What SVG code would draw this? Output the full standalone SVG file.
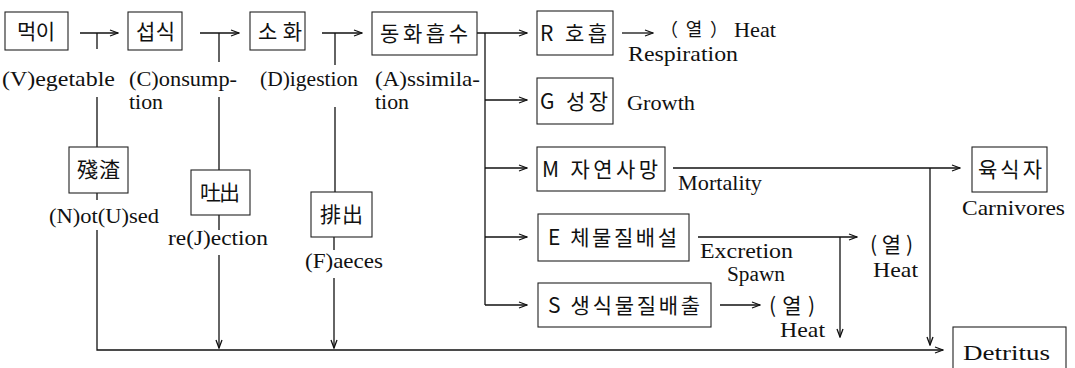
<svg xmlns="http://www.w3.org/2000/svg" width="1075" height="368" viewBox="0 0 1075 368">
<defs>
<style>
.box{fill:#fff;stroke:#222;stroke-width:1.1}
.k{font-family:"Noto Sans CJK KR","Noto Sans CJK SC",sans-serif;font-size:21px;fill:#111}
.t{font-family:"Liberation Serif",serif;font-size:22px;fill:#111}
.c{fill:none;stroke:#111;stroke-width:1.3}
</style>
<marker id="ah" markerWidth="10" markerHeight="8" refX="9" refY="4" orient="auto" markerUnits="userSpaceOnUse"><path d="M1,1 L9,4 L1,7" fill="none" stroke="#111" stroke-width="1.3"/></marker>
</defs>
<rect width="1075" height="368" fill="#fff"/>

<g id="connectors">
<path class="c" d="M80,33 H118" marker-end="url(#ah)"/>
<path class="c" d="M97,33 V49 M97,97 V147"/>
<path class="c" d="M200,33 H239" marker-end="url(#ah)"/>
<path class="c" d="M219,33 V62 M219,97 V170"/>
<path class="c" d="M322,33 H362" marker-end="url(#ah)"/>
<path class="c" d="M335,33 V65 M335,107 V192"/>
<path class="c" d="M97,193 V200 M219,215 V230 M334,237 V250"/>
<path class="c" d="M97,230 V350 H943" marker-end="url(#ah)"/>
<path class="c" d="M219,255 V348" marker-end="url(#ah)"/>
<path class="c" d="M334,278 V348" marker-end="url(#ah)"/>
<path class="c" d="M477,33 H527" marker-end="url(#ah)"/>
<path class="c" d="M485,33 V305"/>
<path class="c" d="M485,100 H527" marker-end="url(#ah)"/>
<path class="c" d="M485,168 H527" marker-end="url(#ah)"/>
<path class="c" d="M485,237 H527" marker-end="url(#ah)"/>
<path class="c" d="M485,305 H527" marker-end="url(#ah)"/>
<path class="c" d="M622,33 H653" marker-end="url(#ah)"/>
<path class="c" d="M673,168 H960" marker-end="url(#ah)"/>
<path class="c" d="M930,168 V345" marker-end="url(#ah)"/>
<path class="c" d="M698,237 H857" marker-end="url(#ah)"/>
<path class="c" d="M840,237 V337" marker-end="url(#ah)"/>
<path class="c" d="M720,305 H760" marker-end="url(#ah)"/>
</g>

<g id="n-meoki"><rect class="box" x="5" y="12" width="63" height="38"/><text class="k" x="17" y="39" textLength="38">먹이</text></g>
<g id="n-seopsik"><rect class="box" x="128" y="12" width="54" height="38"/><text class="k" x="136" y="39" textLength="39">섭식</text></g>
<g id="n-sohwa"><rect class="box" x="250" y="12" width="55" height="38"/><text class="k" x="258" y="39" textLength="44">소화</text></g>
<g id="n-donghwa"><rect class="box" x="372" y="12" width="105" height="43"/><text class="k" x="380" y="41" textLength="88">동화흡수</text></g>
<g id="n-R"><rect class="box" x="537" y="11" width="76" height="44"/><text class="k" x="540" y="41" textLength="67">R 호흡</text></g>
<g id="n-G"><rect class="box" x="537" y="78" width="76" height="46"/><text class="k" x="540" y="109" textLength="68">G 성장</text></g>
<g id="n-M"><rect class="box" x="537" y="147" width="128" height="44"/><text class="k" x="542" y="177" textLength="116">M 자연사망</text></g>
<g id="n-E"><rect class="box" x="538" y="214" width="151" height="47"/><text class="k" x="548" y="245" textLength="129">E 체물질배설</text></g>
<g id="n-S"><rect class="box" x="538" y="283" width="173" height="44"/><text class="k" x="548" y="313" textLength="152">S 생식물질배출</text></g>
<g id="n-yuksik"><rect class="box" x="972" y="147" width="75" height="45"/><text class="k" x="978" y="177" textLength="64">육식자</text></g>
<g id="n-detritus"><rect class="box" x="953" y="327" width="113" height="50"/><text class="t" x="963" y="360" textLength="87" lengthAdjust="spacingAndGlyphs">Detritus</text></g>
<g id="n-jan"><rect class="box" x="69" y="147" width="59" height="46"/><text class="k" x="77" y="177" textLength="43">殘渣</text></g>
<g id="n-to"><rect class="box" x="191" y="170" width="59" height="45"/><text class="k" x="200" y="200" textLength="40">吐出</text></g>
<g id="n-bae"><rect class="box" x="311" y="192" width="61" height="45"/><text class="k" x="320" y="222" textLength="43">排出</text></g>

<g id="labels">
<text class="t" x="2" y="86" textLength="113" lengthAdjust="spacingAndGlyphs">(V)egetable</text>
<text class="t" x="129" y="86" textLength="108" lengthAdjust="spacingAndGlyphs">(C)onsump-</text>
<text class="t" x="129" y="109" textLength="34" lengthAdjust="spacingAndGlyphs">tion</text>
<text class="t" x="260" y="86" textLength="98" lengthAdjust="spacingAndGlyphs">(D)igestion</text>
<text class="t" x="375" y="86" textLength="105" lengthAdjust="spacingAndGlyphs">(A)ssimila-</text>
<text class="t" x="375" y="109" textLength="34" lengthAdjust="spacingAndGlyphs">tion</text>
<text class="k" x="660" y="36" textLength="68" style="font-size:18px">（열）</text>
<text class="t" x="734" y="37" textLength="42" lengthAdjust="spacingAndGlyphs">Heat</text>
<text class="t" x="628" y="61" textLength="110" lengthAdjust="spacingAndGlyphs">Respiration</text>
<text class="t" x="627" y="110" textLength="68" lengthAdjust="spacingAndGlyphs">Growth</text>
<text class="t" x="678" y="190" textLength="84" lengthAdjust="spacingAndGlyphs">Mortality</text>
<text class="t" x="962" y="215" textLength="103" lengthAdjust="spacingAndGlyphs">Carnivores</text>
<text class="t" x="700" y="258" textLength="93" lengthAdjust="spacingAndGlyphs" style="font-size:20px">Excretion</text>
<text class="t" x="727" y="281" textLength="58" lengthAdjust="spacingAndGlyphs" style="font-size:20px">Spawn</text>
<text class="k" x="870" y="252" textLength="43">(열)</text>
<text class="t" x="873" y="277" textLength="45" lengthAdjust="spacingAndGlyphs">Heat</text>
<text class="k" x="769" y="313" textLength="46">(열)</text>
<text class="t" x="780" y="337" textLength="45" lengthAdjust="spacingAndGlyphs">Heat</text>
<text class="t" x="49" y="223" textLength="110" lengthAdjust="spacingAndGlyphs">(N)ot(U)sed</text>
<text class="t" x="168" y="245" textLength="100" lengthAdjust="spacingAndGlyphs">re(J)ection</text>
<text class="t" x="305" y="268" textLength="78" lengthAdjust="spacingAndGlyphs">(F)aeces</text>
</g>
</svg>
